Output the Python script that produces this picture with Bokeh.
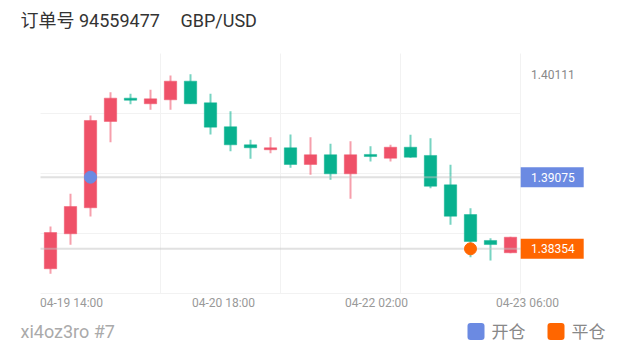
from bokeh.plotting import figure
from bokeh.models import Range1d, ColumnDataSource
from bokeh.core.properties import value
from bokeh.embed import file_html
from bokeh.resources import INLINE

# ---------------- data ----------------
order_title = "订单号 94559477"
symbol = "GBP/USD"
account = "xi4oz3ro #7"

opens  = [1.38153, 1.38505, 1.38767, 1.39636, 1.39871, 1.39814, 1.39854, 1.40042,
          1.39824, 1.39583, 1.39401, 1.39351, 1.39371, 1.39203, 1.39301, 1.39109,
          1.39304, 1.39266, 1.39377, 1.39294, 1.38998, 1.38699, 1.38438, 1.38314]
highs  = [1.38579, 1.38908, 1.39696, 1.39931, 1.39915, 1.39955, 1.40099, 1.40111,
          1.39915, 1.39740, 1.39452, 1.39478, 1.39505, 1.39478, 1.39411, 1.39438,
          1.39387, 1.39401, 1.39502, 1.39468, 1.39200, 1.38763, 1.38461, 1.38475]
lows   = [1.38102, 1.38394, 1.38679, 1.39427, 1.39810, 1.39754, 1.39754, 1.39812,
          1.39505, 1.39337, 1.39260, 1.39317, 1.39170, 1.39099, 1.39049, 1.38858,
          1.39233, 1.39233, 1.39270, 1.38964, 1.38596, 1.38269, 1.38236, 1.38310]
closes = [1.38518, 1.38780, 1.39646, 1.39871, 1.39850, 1.39864, 1.40042, 1.39814,
          1.39579, 1.39401, 1.39371, 1.39371, 1.39203, 1.39301, 1.39109, 1.39301,
          1.39283, 1.39377, 1.39276, 1.38984, 1.38682, 1.38428, 1.38397, 1.38471]

entry_index = 2
entry_price = 1.39075
exit_index = 21
exit_price = 1.38354

x_tick_labels = ["04-19 14:00", "04-20 18:00", "04-22 02:00", "04-23 06:00"]
legend_labels = ["开仓", "平仓"]

# ---------------- style ----------------
UP = "#ef5168"
DOWN = "#08b18f"
BLUE = "#6b8ae2"
ORANGE = "#ff6600"
FONT = "Roboto, 'Noto Sans CJK SC', sans-serif"

W, H = 620, 352
Y_TOP, Y_BOT = 1.40854, 1.37310
X_LEFT, X_RIGHT = -2.5, 28.5


def px_x(px):
    return X_LEFT + px * (X_RIGHT - X_LEFT) / W


def px_y(py):
    return Y_TOP - py * (Y_TOP - Y_BOT) / H


p = figure(width=W, height=H, x_range=Range1d(X_LEFT, X_RIGHT),
           y_range=Range1d(Y_BOT, Y_TOP), output_backend="svg",
           toolbar_location=None, x_axis_type=None, y_axis_type=None,
           min_border=0, outline_line_color=None, background_fill_color="white",
           border_fill_color="white")
p.grid.visible = False

n = len(opens)
idx = list(range(n))
chart_left, chart_right = -0.5, n - 0.5
chart_top, chart_bot = px_y(53), px_y(293)

# grid
hgrid = [chart_bot + (chart_top - chart_bot) * f for f in (0.25, 0.5, 0.75)]
p.segment(x0=[chart_left] * 3, x1=[chart_right] * 3, y0=hgrid, y1=hgrid,
          line_color="#f2f2f2", line_width=1)
vgrid = [chart_left + 6 * k for k in (1, 2, 3, 4)]
p.segment(x0=vgrid, x1=vgrid, y0=[chart_bot] * 4, y1=[chart_top] * 4,
          line_color="#f2f2f2", line_width=1)
p.segment(x0=[chart_left], x1=[chart_right], y0=[chart_bot], y1=[chart_bot],
          line_color="#f2f2f2", line_width=1)

# candles
colors = [UP if c >= o else DOWN for o, c in zip(opens, closes)]
src = ColumnDataSource(dict(
    x=idx, o=opens, h=highs, l=lows, c=closes, color=colors,
    top=[max(o, c) for o, c in zip(opens, closes)],
    bottom=[min(o, c) for o, c in zip(opens, closes)],
))
p.segment(x0="x", x1="x", y0="l", y1="h", line_color="color", line_width=2,
          line_alpha=0.55, source=src)
p.vbar(x="x", width=0.62, top="top", bottom="bottom", fill_color="color",
       line_color="color", line_alpha=0.45, line_width=1, source=src)

# price lines
p.segment(x0=[chart_left, chart_left], x1=[chart_right, chart_right],
          y0=[entry_price, exit_price], y1=[entry_price, exit_price],
          line_color="#c4c4c4", line_alpha=0.5, line_width=2)

# trade markers
p.scatter(x=[entry_index], y=[entry_price], size=12, color=BLUE)
p.scatter(x=[exit_index], y=[exit_price], size=12, color=ORANGE)

# right price scale tags
tag_x = px_x(551.7)
p.rect(x=[tag_x, tag_x], y=[entry_price, exit_price], width=63, height=20,
       width_units="screen", height_units="screen",
       fill_color=[BLUE, ORANGE], line_color=None)
label_x = px_x(530.5)
p.text(x=[label_x, label_x], y=[entry_price, exit_price],
       text=[f"{entry_price:.5f}", f"{exit_price:.5f}"],
       text_color="white", text_font=value(FONT), text_font_size="12px",
       text_baseline="middle", text_align="left")
p.text(x=[label_x], y=[max(highs)], text=[f"{max(highs):.5f}"],
       text_color="#888888", text_font=value(FONT), text_font_size="12px",
       text_baseline="middle", text_align="left")

# x tick labels
tick_pos = [1.05, 8.65, 16.3, 23.85]
p.text(x=tick_pos, y=[px_y(302)] * len(tick_pos), text=x_tick_labels,
       text_color="#999999", text_font=value(FONT), text_font_size="12px",
       text_baseline="middle", text_align="center")

# title
p.text(x=[px_x(20)], y=[px_y(20)], text=[order_title], text_color="#333333",
       text_font=value(FONT), text_font_size="18px", text_baseline="middle",
       text_align="left")
p.text(x=[px_x(180)], y=[px_y(20)], text=[symbol], text_color="#333333",
       text_font=value(FONT), text_font_size="18px", text_baseline="middle",
       text_align="left")

# footer
p.text(x=[px_x(20)], y=[px_y(331)], text=[account], text_color="#aaaaaa",
       text_font=value(FONT), text_font_size="18px", text_baseline="middle",
       text_align="left")

# legend
sq_l = [px_x(467), px_x(547)]
sq_r = [px_x(484), px_x(564)]
p.quad(left=sq_l, right=sq_r, top=[px_y(322.5)] * 2, bottom=[px_y(339.5)] * 2,
       fill_color=[BLUE, ORANGE], line_color=None, border_radius=3)
p.text(x=[px_x(491), px_x(571)], y=[px_y(331)] * 2, text=legend_labels,
       text_color="#888888", text_font=value(FONT), text_font_size="17px",
       text_baseline="middle", text_align="left")

open("out.html", "w").write(file_html(p, INLINE))
